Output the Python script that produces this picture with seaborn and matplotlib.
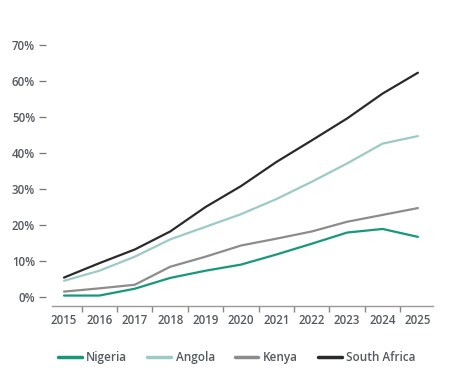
import pandas as pd
import seaborn as sns
import matplotlib.pyplot as plt
from matplotlib.ticker import FixedLocator, FuncFormatter

# --- data (in %) ---
years = list(range(2015, 2026))
nigeria = [0.4, 0.4, 2.3, 5.3, 7.3, 9.0, 11.8, 14.8, 17.9, 18.9, 16.7]
angola = [4.5, 7.3, 11.2, 16.0, 19.5, 23.0, 27.2, 32.0, 37.1, 42.6, 44.7]
kenya = [1.5, 2.4, 3.4, 8.4, 11.2, 14.3, 16.2, 18.2, 20.9, 22.8, 24.7]
south_africa = [5.4, 9.4, 13.2, 18.2, 25.0, 30.8, 37.5, 43.5, 49.6, 56.5, 62.3]

countries = ['Nigeria', 'Angola', 'Kenya', 'South Africa']
colours = ['#17987a', '#9ccbc6', '#8c8c8c', '#2a2a2a']

df = pd.DataFrame({'Nigeria': nigeria, 'Angola': angola,
                   'Kenya': kenya, 'South Africa': south_africa}, index=years)
df_long = df.reset_index(names='year').melt(id_vars='year', var_name='country',
                                            value_name='share')

sns.set_style('white')
plt.rcParams['font.family'] = ['Open Sans', 'DejaVu Sans']
plt.rcParams['xtick.bottom'] = True
plt.rcParams['ytick.left'] = True
txt = '#555a60'

fig = plt.figure(figsize=(4.6, 3.78), dpi=100)
ax = fig.add_axes([0.1007, 0.1905, 0.8463, 0.7095])

sns.lineplot(data=df_long, x='year', y='share', hue='country',
             hue_order=countries, palette=colours, linewidth=1.6, ax=ax)

ax.set_xlim(2014.5, 2025.5)
ax.set_ylim(-2.5, 72)
ax.set_xlabel('')
ax.set_ylabel('')

# y axis: labels with short dash, no spine
ax.yaxis.set_major_locator(FixedLocator(range(0, 71, 10)))
ax.yaxis.set_major_formatter(FuncFormatter(lambda v, p: f'{int(v)}%'))
ax.tick_params(axis='y', left=True, length=5, width=0.9, color='#777777', pad=3,
               labelsize=8.3, labelcolor=txt, direction='out')

# x axis: year labels centred, ticks between years
ax.xaxis.set_major_locator(FixedLocator(years))
ax.xaxis.set_minor_locator(FixedLocator([y + 0.5 for y in years[:-1]]))
ax.tick_params(axis='x', which='major', bottom=True, length=0, pad=6,
               labelsize=8.3, labelcolor=txt)
ax.tick_params(axis='x', which='minor', bottom=True, length=4, width=1.0,
               color='#888888', direction='out')
for lab in ax.get_xticklabels() + ax.get_yticklabels():
    lab.set_fontweight('semibold')

for s in ['top', 'right', 'left']:
    ax.spines[s].set_visible(False)
ax.spines['bottom'].set_color('#999999')
ax.spines['bottom'].set_linewidth(1.0)
ax.spines['bottom'].set_bounds(2014.66, 2025.43)

ax.legend_.remove()
handles, labels = ax.get_legend_handles_labels()
for h in handles:
    h.set_linewidth(2.5)
leg = fig.legend(handles, labels, loc='center', bbox_to_anchor=(0.515, 0.053),
                 ncol=4, frameon=False, fontsize=8.5, handlelength=2.0,
                 handletextpad=0.4, columnspacing=1.7)
for t in leg.get_texts():
    t.set_color(txt)
    t.set_fontweight('semibold')

fig.savefig('out.png', dpi=100)
